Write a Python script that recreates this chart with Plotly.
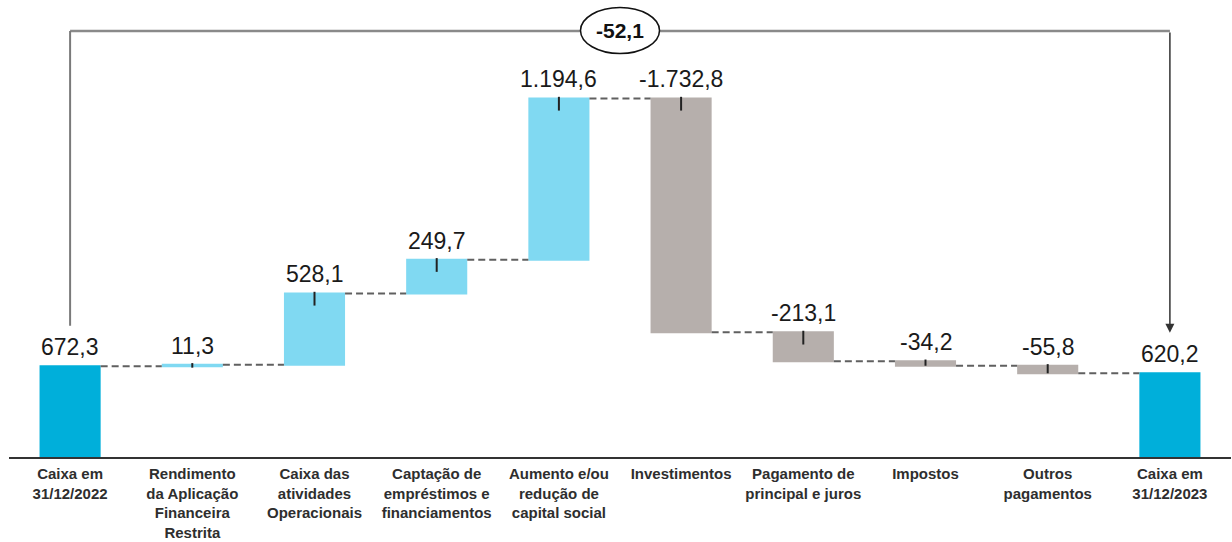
import plotly.graph_objects as go

# ---- data ----
categories = [
    "Caixa em 31/12/2022",
    "Rendimento da Aplicação Financeira Restrita",
    "Caixa das atividades Operacionais",
    "Captação de empréstimos e financiamentos",
    "Aumento e/ou redução de capital social",
    "Investimentos",
    "Pagamento de principal e juros",
    "Impostos",
    "Outros pagamentos",
    "Caixa em 31/12/2023",
]
tick_labels = [
    "Caixa em<br>31/12/2022",
    "Rendimento<br>da Aplicação<br>Financeira<br>Restrita",
    "Caixa das<br>atividades<br>Operacionais",
    "Captação de<br>empréstimos e<br>financiamentos",
    "Aumento e/ou<br>redução de<br>capital social",
    "Investimentos",
    "Pagamento de<br>principal e juros",
    "Impostos",
    "Outros<br>pagamentos",
    "Caixa em<br>31/12/2023",
]
values = [672.3, 11.3, 528.1, 249.7, 1194.6, -1732.8, -213.1, -34.2, -55.8, 620.2]
measures = ["absolute", "relative", "relative", "relative", "relative",
            "relative", "relative", "relative", "relative", "absolute"]
variation_label = "-52,1"

# ---- styles ----
FONT = "Liberation Sans, Arial, sans-serif"
C_TOTAL = "#00AFDA"
C_UP = "#80D9F2"
C_DOWN = "#B6AFAC"
PX_PER_UNIT = 0.135
PLOT_H = 452
YMAX = PLOT_H / PX_PER_UNIT


def br_fmt(v):
    s = f"{abs(v):,.1f}".replace(",", "X").replace(".", ",").replace("X", ".")
    return ("-" if v < 0 else "") + s


# bar tops from running totals
tops, tick_x, tick_y = [], [], []
run = 0.0
for cat, v, m in zip(categories, values, measures):
    if m == "absolute":
        run = v
        tops.append(v)
    else:
        start, end = run, run + v
        top = max(start, end)
        tops.append(top)
        depth = max(min(90.0, abs(v)), 22.0)
        tick_x += [cat, cat, None]
        tick_y += [top + 12, top - depth, None]
        run = end

fig = go.Figure()
fig.add_trace(go.Waterfall(
    x=categories,
    y=values,
    measure=measures,
    width=0.5,
    increasing=dict(marker=dict(color=C_UP)),
    decreasing=dict(marker=dict(color=C_DOWN)),
    totals=dict(marker=dict(color=C_TOTAL)),
    connector=dict(mode="between", line=dict(color="#606060", width=2, dash="7px,4px")),
    hoverinfo="skip",
    textinfo="none",
))
fig.add_trace(go.Scatter(
    x=tick_x, y=tick_y, mode="lines",
    line=dict(color="#222222", width=2),
    hoverinfo="skip", showlegend=False,
))

annotations = []
for cat, v, top in zip(categories, values, tops):
    annotations.append(dict(
        x=cat, y=top, text=br_fmt(v), showarrow=False,
        yanchor="bottom", yshift=4,
        font=dict(family=FONT, size=23, color="#1a1a1a"),
    ))

# bracket
yb = (457 - 31) / PX_PER_UNIT
ye = (457 - 30.5) / PX_PER_UNIT
hh = 23 / PX_PER_UNIT
hw = 39.5 / 122.2
shapes = [
    dict(type="line", xref="x", yref="y", x0=0, x1=9, y0=yb, y1=yb,
         line=dict(color="#8a8a8a", width=2.5)),
    dict(type="line", xref="x", yref="y", x0=0, x1=0, y0=yb, y1=values[0] + 300,
         line=dict(color="#7a7a7a", width=2)),
    dict(type="circle", xref="x", yref="y", x0=4.5 - hw, x1=4.5 + hw,
         y0=ye - hh, y1=ye + hh, fillcolor="white",
         line=dict(color="#111111", width=1.5)),
]
annotations.append(dict(
    x=9, y=values[-1] + 300, ax=9, ay=yb, xref="x", yref="y", axref="x", ayref="y",
    text="", showarrow=True, arrowhead=2, arrowsize=1.2, arrowwidth=1.5, arrowcolor="#333333",
))
annotations.append(dict(
    x=4.5, y=ye, xref="x", yref="y", text="<b>" + variation_label + "</b>", showarrow=False,
    font=dict(family=FONT, size=21, color="#111111"),
))

fig.update_layout(
    width=1232, height=542,
    margin=dict(l=9, r=1, t=5, b=85, autoexpand=False),
    paper_bgcolor="white", plot_bgcolor="white",
    showlegend=False,
    shapes=shapes,
    annotations=annotations,
    xaxis=dict(
        type="category", tickmode="array", tickvals=categories,
        ticktext=["<b>" + t + "</b>" for t in tick_labels],
        showline=True, linecolor="#333333", linewidth=2, showgrid=False,
        ticks="", tickfont=dict(family=FONT, size=15, color="#2e2e2e"),
        range=[-0.5, 9.5], fixedrange=True, automargin=False,
        ticklabelstandoff=2,
    ),
    yaxis=dict(visible=False, range=[0, YMAX], fixedrange=True, automargin=False),
)

fig.write_html(
    "out.html",
    config={"displayModeBar": False, "staticPlot": True},
    post_script="document.body.style.margin='0';document.body.style.padding='0';",
)
